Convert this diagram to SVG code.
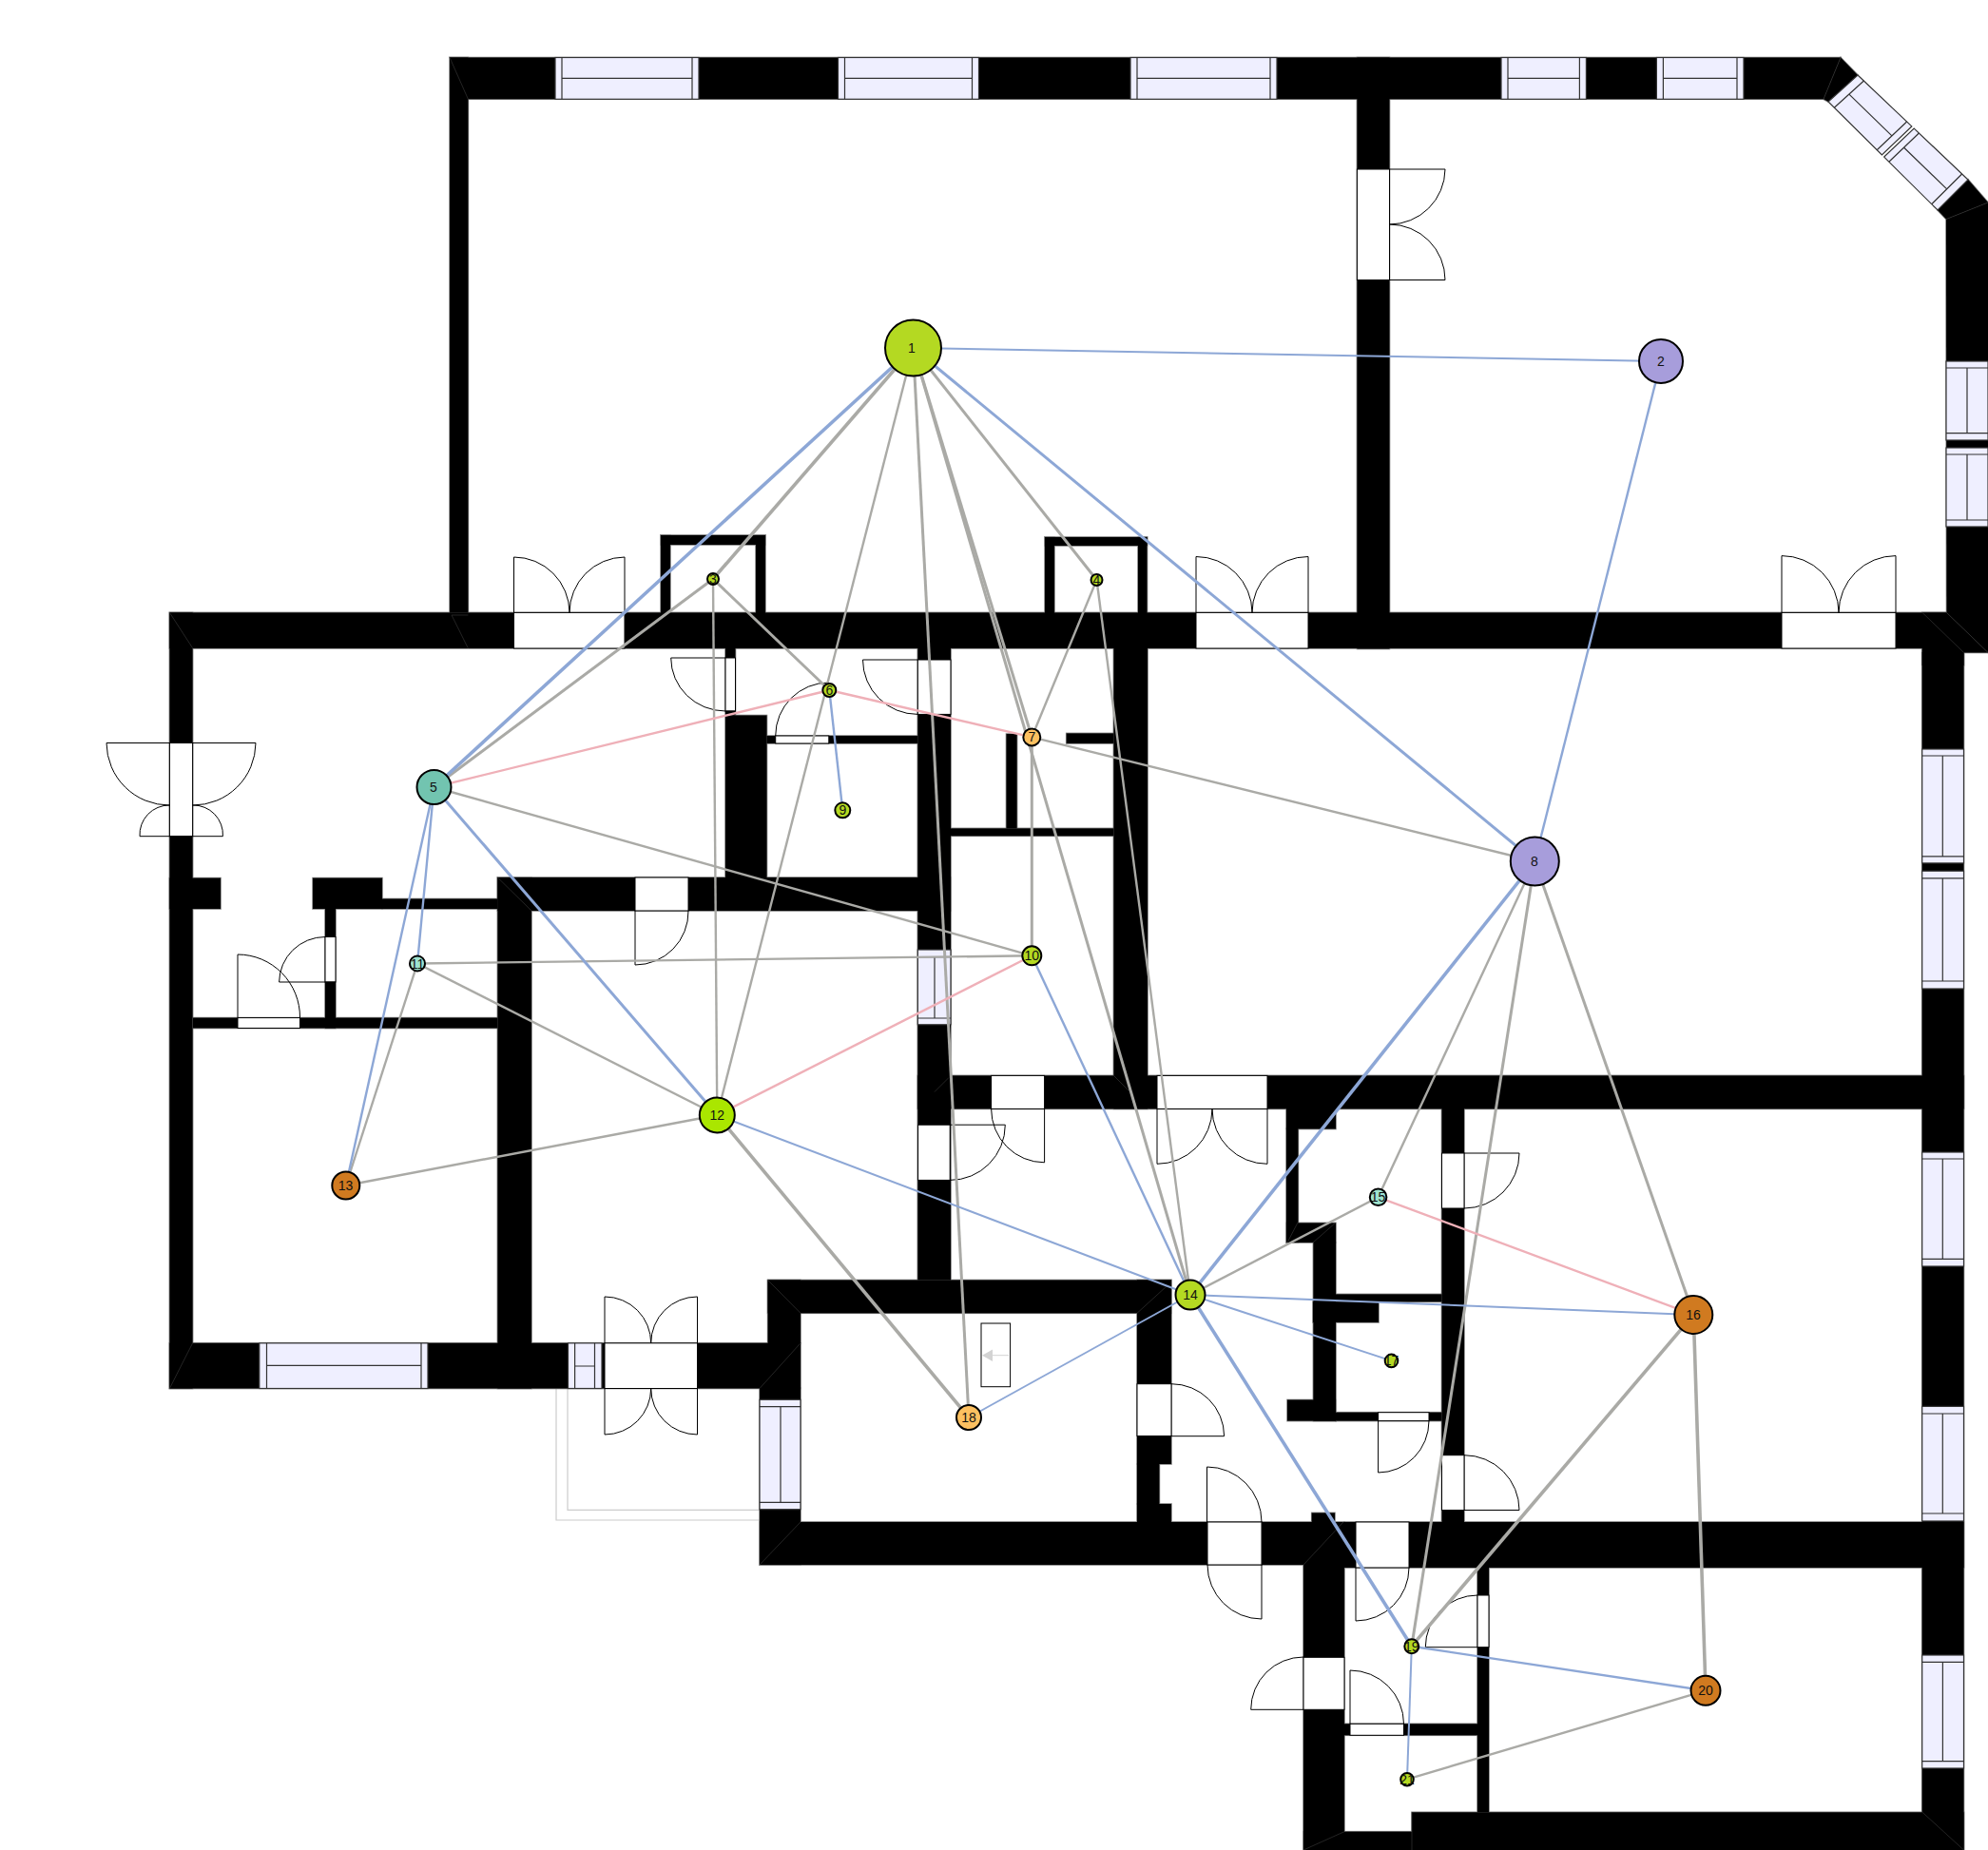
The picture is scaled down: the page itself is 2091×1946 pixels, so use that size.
<svg xmlns="http://www.w3.org/2000/svg" xmlns:xlink="http://www.w3.org/1999/xlink" width="2091" height="1946" viewBox="0 0 2091 1946">
<style>
.op{fill:#fff;stroke:#000;stroke-width:1}
.arc{fill:none;stroke:#000;stroke-width:1}
.win{fill:#efefff;stroke:#333;stroke-width:1.2}
.fr{fill:none;stroke:#333;stroke-width:1.2}
.hl{stroke:#333;stroke-width:.7;fill:none}
.out{fill:none;stroke:#ccc;stroke-width:1.2}
line.b{stroke:#8da7d6}
line.g{stroke:#aaaaa6}
line.p{stroke:#efb0b8}
.w1{stroke-width:2}
.w2{stroke-width:2.4}
.w25{stroke-width:3}
.w3{stroke-width:3.6}
.n circle{stroke:#000;stroke-width:2}
.n text{font-family:"Liberation Sans",Arial,sans-serif;font-size:14px;fill:#111;text-anchor:middle;dominant-baseline:central}
.lime{fill:#b4d922}
.vio{fill:#a79ddb}
.teal{fill:#72c4b0}
.mint{fill:#9ee3cf}
.brt{fill:#aae600}
.org{fill:#d07a20}
.yel{fill:#fdc060}
</style>
<defs>
<g id="walls">
<polygon points="473,60.5 1936,60.5 1918,104.3 492.4,104.3"/>
<rect x="473" y="60.5" width="19.4" height="584"/>
<rect x="1427.4" y="60.5" width="34.1" height="622"/>
<polygon points="1936,60.5 1954,79 1923,107 1918,104.3"/>
<polygon points="2070,188.7 2091,213 2047,230.6 2038,221"/>
<polygon points="2047,230.6 2091,213 2091,686.4 2047.5,644.4"/>
<rect x="178.4" y="644.4" width="1869" height="37.6"/>
<polygon points="2021.7,644.4 2047.5,644.4 2091,686.4 2065.5,686.4 2065.5,700 2021.7,700"/>
<rect x="2021.7" y="686" width="43.8" height="1260"/>
<rect x="695" y="563" width="10" height="82"/>
<rect x="795" y="563" width="10" height="82"/>
<rect x="695" y="563" width="110" height="10"/>
<rect x="1099" y="565" width="10" height="80"/>
<rect x="1197" y="565" width="9.500" height="80"/>
<rect x="1099" y="565" width="107.500" height="9"/>
<rect x="178.4" y="644.4" width="24.2" height="816.1"/>
<rect x="178.4" y="923.6" width="53.6" height="32.400"/>
<rect x="329" y="923.6" width="73" height="32.400"/>
<rect x="402" y="945.5" width="121.400" height="10.500"/>
<rect x="342" y="956" width="11" height="125.500"/>
<rect x="203" y="1070.6" width="320.400" height="10.900"/>
<rect x="523.4" y="923" width="35.600" height="537.500"/>
<rect x="523.4" y="923" width="476.600" height="35"/>
<rect x="178.4" y="1412.8" width="663.600" height="47.700"/>
<rect x="807.6" y="1346.5" width="34.400" height="67"/>
<rect x="807.6" y="1346.5" width="424.400" height="34.800"/>
<rect x="799" y="1460" width="43" height="186"/>
<rect x="799" y="1601" width="528" height="45"/>
<rect x="1196" y="1346.5" width="36" height="193.500"/>
<rect x="1196" y="1540" width="23.400" height="42"/>
<rect x="1196" y="1582" width="36" height="19"/>
<rect x="763" y="752.5" width="43.500" height="170.500"/>
<rect x="763" y="682" width="10.500" height="70.500"/>
<rect x="806.5" y="774" width="158.800" height="8"/>
<rect x="965.3" y="682" width="34.700" height="664.500"/>
<rect x="1000" y="871.4" width="171.400" height="7.900"/>
<rect x="1058.5" y="772" width="11.100" height="99.400"/>
<rect x="1121.7" y="771.4" width="49.700" height="10.600"/>
<rect x="1171.4" y="682" width="35.600" height="484.400"/>
<rect x="965.3" y="1131.4" width="1100.200" height="35"/>
<rect x="1353" y="1166" width="52" height="21.500"/>
<rect x="1353" y="1187" width="12.400" height="120"/>
<rect x="1353" y="1286.4" width="52" height="20.600"/>
<rect x="1381.4" y="1307" width="23.600" height="187.600"/>
<rect x="1354" y="1472.5" width="51" height="22.100"/>
<rect x="1405" y="1485.7" width="111.500" height="8.900"/>
<rect x="1405" y="1361.4" width="111.500" height="7.900"/>
<rect x="1381" y="1369.3" width="69" height="21.700"/>
<rect x="1516.5" y="1166" width="23.500" height="435"/>
<rect x="1379.7" y="1591.4" width="24.300" height="10"/>
<rect x="1327" y="1601" width="87" height="45"/>
<rect x="1414" y="1601" width="651.500" height="48"/>
<rect x="1371" y="1646" width="43" height="300"/>
<rect x="1554" y="1649" width="12" height="257.300"/>
<rect x="1414" y="1813.3" width="140" height="12"/>
<rect x="1485" y="1906.3" width="580.500" height="39.700"/>
<rect x="1371" y="1926.7" width="114" height="19.300"/>
</g>
</defs>
<rect width="2091" height="1946" fill="#fff"/>
<g id="plan">
<path class="out" d="M585,1460V1599H799M597,1460V1588.300H799"/>
<use href="#walls" fill="#000" stroke="#808080" stroke-width="1.600"/>
<use href="#walls" fill="#000"/>
<g id="miters">
<path class="hl" d="M473,60.5L492.4,104.3M475,647L492.4,682M475,647H492.400M178.4,644.4L202.6,681.700M178.4,1460.5L202.6,1412.800M523.4,923L559,958M807.6,1346.5L842,1381.300M799,1460.5L842,1412.800M799,1646L842,1601M1196,1381.300L1227,1353M983,1148.500L998,1133.500M1171.4,1131.400L1187,1147M1354,1307L1365,1286M1381,1307L1405,1286M1371,1646L1413,1601M2022,1906.300L2065.500,1946M1371,1946L1414,1926.700M1485,1906.300V1946M1918,104.300L1936,60.500M2047,230.600L2091,213M2022,644.400L2065.500,686.400M2047.5,644.4L2091,686.400"/>
</g>
<g id="openings">
<rect class="op" x="540.5" y="644.4" width="116.500" height="37.600"/>
<rect class="op" x="1258" y="644.4" width="118" height="37.600"/>
<rect class="op" x="1874" y="644.4" width="120" height="37.600"/>
<rect class="op" x="1427.4" y="178" width="34.100" height="116.500"/>
<rect class="op" x="178.4" y="781.5" width="24.200" height="98.200"/>
<rect class="op" x="250" y="1070.6" width="65.500" height="10.900"/>
<rect class="op" x="342" y="985.5" width="11" height="47.500"/>
<rect class="op" x="668" y="923" width="56" height="35"/>
<rect class="op" x="763" y="692" width="10.500" height="56"/>
<rect class="op" x="815.7" y="774" width="56.100" height="8"/>
<rect class="op" x="965.3" y="694" width="34.700" height="57.400"/>
<rect class="op" x="636" y="1412.8" width="97.500" height="47.700"/>
<rect class="op" x="1042.6" y="1131.4" width="56" height="35"/>
<rect class="op" x="965.6" y="1183.2" width="33.600" height="58.200"/>
<rect class="op" x="1217" y="1131.4" width="116" height="35"/>
<rect class="op" x="1196" y="1455.7" width="36" height="54.800"/>
<rect class="op" x="1270" y="1601" width="57" height="45"/>
<rect class="op" x="1449.6" y="1485.7" width="53.400" height="8.900"/>
<rect class="op" x="1516.5" y="1213" width="23.500" height="58"/>
<rect class="op" x="1516.5" y="1530.7" width="23.500" height="57.800"/>
<rect class="op" x="1426" y="1601" width="56" height="48"/>
<rect class="op" x="1554" y="1678" width="12" height="54.700"/>
<rect class="op" x="1420" y="1813.3" width="56.500" height="12"/>
<rect class="op" x="1371" y="1743.3" width="43" height="55"/>
</g>
<g id="door-leaves">
<path class="arc" d="M540.5,644.4V586A58.500,58.500 0 0 1 599,644.400A58.500,58.500 0 0 1 657,586V644.400"/>
<path class="arc" d="M1258,644.4V585.500A59,59 0 0 1 1317,644.400A59,59 0 0 1 1376,585.500V644.400"/>
<path class="arc" d="M1874,644.4V584.600A60,60 0 0 1 1934,644.400A60,60 0 0 1 1994,584.600V644.400"/>
<path class="arc" d="M1461.5,178H1520A58.500,58.500 0 0 1 1461.500,236A58.500,58.500 0 0 1 1520,294.500H1461.500"/>
<path class="arc" d="M178.4,781.5H112A66,66 0 0 0 178.400,847M202.6,781.5H269A66,66 0 0 1 202.600,847"/>
<path class="arc" d="M178.4,847A31,31 0 0 0 147,879.700H234.400A31,31 0 0 0 202.600,847"/>
<path class="arc" d="M250,1070.6V1004A65.500,66 0 0 1 315.500,1070.600"/>
<path class="arc" d="M342,985.5A48.500,48 0 0 0 293.600,1033H353"/>
<path class="arc" d="M668,958V1015A56,56 0 0 0 724,958"/>
<path class="arc" d="M763,692H705.700A57.500,56 0 0 0 763,748H773.500"/>
<path class="arc" d="M965.3,694H907.500A57.800,57.400 0 0 0 965.300,751.400"/>
<path class="arc" d="M815.7,774V774A56,56 0 0 1 871.800,718"/>
<path class="arc" d="M636,1412.8V1364A48.700,48.800 0 0 1 684.700,1412.800A48.800,48.800 0 0 1 733.500,1364V1412.800"/>
<path class="arc" d="M636,1460.5V1509A48.700,48.500 0 0 0 684.700,1460.500A48.800,48.500 0 0 0 733.500,1509V1460.500"/>
<path class="arc" d="M1098.6,1166.4V1222.800A56,56.400 0 0 1 1042.600,1166.400"/>
<path class="arc" d="M999.2,1183.2H1057.300A58,58.200 0 0 1 999.200,1241.400"/>
<path class="arc" d="M1217,1166.4V1224.300A58,58 0 0 0 1275,1166.400A58,58 0 0 0 1333,1224.300V1166.400"/>
<path class="arc" d="M1232,1455.7A55.600,55 0 0 1 1287.600,1510.700H1232"/>
<path class="arc" d="M1449.6,1494.6V1549A53.400,54.400 0 0 0 1503,1494.600"/>
<path class="arc" d="M1540,1213H1598A58,58 0 0 1 1540,1271"/>
<path class="arc" d="M1540,1530.7A58,57.800 0 0 1 1598,1588.500H1540"/>
<path class="arc" d="M1269.5,1601V1543A57.500,58 0 0 1 1327,1601"/>
<path class="arc" d="M1327,1646V1703A57,57 0 0 1 1270,1646"/>
<path class="arc" d="M1426,1649V1705A56,56 0 0 0 1482,1649"/>
<path class="arc" d="M1554,1678A54.700,54.700 0 0 0 1499.300,1732.700H1554"/>
<path class="arc" d="M1420,1813.3V1757A56.500,56.300 0 0 1 1476.500,1813.300"/>
<path class="arc" d="M1371,1743A55.300,55.300 0 0 0 1315.700,1798.300H1371"/>
</g>
<g id="windows">
<rect class="win" x="584" y="60.5" width="151" height="43.800"/><path class="fr" d="M591,60.5V104.300M728,60.5V104.300M591,82.400H728"/>
<rect class="win" x="881.5" y="60.5" width="148" height="43.800"/><path class="fr" d="M888.5,60.5V104.300M1022.500,60.5V104.300M888.5,82.400H1022.500"/>
<rect class="win" x="1189" y="60.5" width="154" height="43.800"/><path class="fr" d="M1196,60.5V104.300M1336,60.5V104.300M1196,82.400H1336"/>
<rect class="win" x="1579" y="60.5" width="89.400" height="43.800"/><path class="fr" d="M1586,60.5V104.300M1661.400,60.5V104.300M1586,82.400H1661.400"/>
<rect class="win" x="1742.4" y="60.5" width="91.600" height="43.800"/><path class="fr" d="M1749.4,60.5V104.300M1827,60.5V104.300M1749.4,82.400H1827"/>
<polygon class="win" points="1954,79 2010.8,132.900 1979.4,162.900 1923,107"/><path class="fr" d="M1960.4,85L1929.3,113.300M2005.6,128L1974.2,157.700M1944.9,99.100L1989.9,142.900"/>
<polygon class="win" points="2013.2,135.100 2070,189 2038,221 1981.7,165.100"/><path class="fr" d="M2018.4,140L1986.8,170.300M2063.6,183L2031.700,214.700M2002.6,155.200L2047.700,198.900"/>
<rect class="win" x="2047" y="380" width="44" height="83"/><path class="fr" d="M2047,387H2091M2047,455.600H2091M2069,387V455.600"/>
<rect class="win" x="2047" y="471" width="44" height="83"/><path class="fr" d="M2047,478H2091M2047,547H2091M2069,478V547"/>
<rect class="win" x="2021.7" y="788" width="43.800" height="119.900"/><path class="fr" d="M2021.7,795H2065.500M2021.7,900.900H2065.500M2043.3,795V900.900"/>
<rect class="win" x="2021.7" y="916.2" width="43.800" height="123.800"/><path class="fr" d="M2021.7,923.800H2065.500M2021.7,1032H2065.500M2043.3,923.800V1032"/>
<rect class="win" x="2021.7" y="1212" width="43.800" height="120"/><path class="fr" d="M2021.7,1219H2065.500M2021.7,1324.400H2065.500M2043.3,1219V1324.400"/>
<rect class="win" x="2021.7" y="1479.4" width="43.800" height="120.600"/><path class="fr" d="M2021.7,1487H2065.500M2021.7,1592H2065.500M2043.3,1487V1592"/>
<rect class="win" x="2021.7" y="1741" width="43.800" height="119"/><path class="fr" d="M2021.7,1748.300H2065.500M2021.7,1852.700H2065.500M2043.4,1748.300V1852.700"/>
<rect class="win" x="965.3" y="999" width="34.700" height="78.800"/><path class="fr" d="M965.3,1006.700H1000M965.3,1071H1000M983,1006.700V1071"/>
<rect class="win" x="272.8" y="1412.8" width="177.200" height="47.700"/><path class="fr" d="M280.5,1412.800V1460.500M443,1412.800V1460.500M280.5,1436.400H443"/>
<rect class="win" x="597.5" y="1412.8" width="35.500" height="47.700"/><path class="fr" d="M604.6,1412.800V1460.500M625.5,1412.800V1460.500M604.6,1437H625.500"/>
<rect class="win" x="799" y="1472.3" width="43" height="115.400"/><path class="fr" d="M799,1479.700H842M799,1580.300H842M821,1479.700V1580.300"/>
</g>
<g id="stair">
<rect x="1032" y="1392" width="30.600" height="66.700" fill="none" stroke="#000" stroke-width="1"/>
<path d="M1061,1425.700H1044" stroke="#d3d3d3" stroke-width="1" fill="none"/>
<polygon points="1033,1425.700 1044,1419.500 1044,1432" fill="#d3d3d3"/>
</g>
</g>
<g id="connectors">
<line class="g w3" x1="960.5" y1="366" x2="750" y2="609"/>
<line class="g w2" x1="960.5" y1="366" x2="754.3" y2="1173"/>
<line class="g w25" x1="960.5" y1="366" x2="1019" y2="1491"/>
<line class="g w25" x1="960.5" y1="366" x2="1085.3" y2="775.400"/>
<line class="g w25" x1="960.5" y1="366" x2="1252" y2="1362"/>
<line class="g w25" x1="960.5" y1="366" x2="1153.5" y2="610"/>
<line class="g w25" x1="456.5" y1="828" x2="750" y2="609"/>
<line class="g w25" x1="750" y1="609" x2="872.3" y2="726"/>
<line class="g w2" x1="750" y1="609" x2="754.3" y2="1173"/>
<line class="g w2" x1="1153.5" y1="610" x2="1085.3" y2="775.400"/>
<line class="g w2" x1="1153.5" y1="610" x2="1252" y2="1362"/>
<line class="g w2" x1="1085.3" y1="775.400" x2="1614.3" y2="906"/>
<line class="g w25" x1="1085.3" y1="775.400" x2="1085.3" y2="1005.300"/>
<line class="g w2" x1="456.5" y1="828" x2="1085.3" y2="1005.300"/>
<line class="g w2" x1="439" y1="1013.500" x2="1085.3" y2="1005.300"/>
<line class="g w2" x1="439" y1="1013.500" x2="754.3" y2="1173"/>
<line class="g w2" x1="439" y1="1013.500" x2="363.8" y2="1247"/>
<line class="g w2" x1="363.8" y1="1247" x2="754.3" y2="1173"/>
<line class="g w3" x1="754.3" y1="1173" x2="1019" y2="1491"/>
<line class="g w2" x1="1252" y1="1362" x2="1449.6" y2="1259.300"/>
<line class="g w2" x1="1614.3" y1="906" x2="1449.6" y2="1259.300"/>
<line class="g w25" x1="1614.3" y1="906" x2="1484.8" y2="1731.700"/>
<line class="g w25" x1="1614.3" y1="906" x2="1781.3" y2="1383"/>
<line class="g w3" x1="1781.3" y1="1383" x2="1484.8" y2="1731.700"/>
<line class="g w3" x1="1781.3" y1="1383" x2="1794" y2="1778.300"/>
<line class="g w2" x1="1794" y1="1778.300" x2="1480" y2="1871.700"/>
<line class="p w2" x1="456.5" y1="828" x2="872.3" y2="726"/>
<line class="p w2" x1="872.3" y1="726" x2="1085.3" y2="775.400"/>
<line class="p w2" x1="754.3" y1="1173" x2="1085.3" y2="1005.300"/>
<line class="p w2" x1="1449.6" y1="1259.300" x2="1781.3" y2="1383"/>
<line class="b w1" x1="960.5" y1="366" x2="1747" y2="380"/>
<line class="b w3" x1="960.5" y1="366" x2="456.5" y2="828"/>
<line class="b w25" x1="960.5" y1="366" x2="1614.3" y2="906"/>
<line class="b w2" x1="1747" y1="380" x2="1614.3" y2="906"/>
<line class="b w25" x1="456.5" y1="828" x2="754.3" y2="1173"/>
<line class="b w2" x1="456.5" y1="828" x2="363.8" y2="1247"/>
<line class="b w2" x1="456.5" y1="828" x2="439" y2="1013.500"/>
<line class="b w2" x1="872.3" y1="726" x2="886.3" y2="852.300"/>
<line class="b w2" x1="1085.3" y1="1005.300" x2="1252" y2="1362"/>
<line class="b w1" x1="754.3" y1="1173" x2="1252" y2="1362"/>
<line class="b w1" x1="1252" y1="1362" x2="1781.3" y2="1383"/>
<line class="b w1" x1="1252" y1="1362" x2="1463.5" y2="1431.400"/>
<line class="b w1" x1="1252" y1="1362" x2="1019" y2="1491"/>
<line class="b w3" x1="1252" y1="1362" x2="1614.3" y2="906"/>
<line class="b w3" x1="1252" y1="1362" x2="1484.8" y2="1731.700"/>
<line class="b w2" x1="1484.8" y1="1731.700" x2="1794" y2="1778.300"/>
<line class="b w1" x1="1484.8" y1="1731.700" x2="1480" y2="1871.700"/>
</g>
<g id="nodes">
<g id="n1" class="n"><circle class="lime" cx="960.5" cy="366" r="29.500"/><text x="959" y="366">1</text></g>
<g id="n2" class="n"><circle class="vio" cx="1747" cy="380" r="23"/><text x="1747" y="380">2</text></g>
<g id="n3" class="n"><circle class="lime" cx="750" cy="609" r="6"/><text x="750" y="609">3</text></g>
<g id="n4" class="n"><circle class="lime" cx="1153.5" cy="610" r="6"/><text x="1153.5" y="610">4</text></g>
<g id="n5" class="n"><circle class="teal" cx="456.5" cy="828" r="18"/><text x="456" y="828">5</text></g>
<g id="n6" class="n"><circle class="lime" cx="872.3" cy="726" r="7"/><text x="872.3" y="726">6</text></g>
<g id="n7" class="n"><circle class="yel" cx="1085.3" cy="775.4" r="9"/><text x="1085.3" y="775.4">7</text></g>
<g id="n8" class="n"><circle class="vio" cx="1614.3" cy="906" r="25.500"/><text x="1614" y="906">8</text></g>
<g id="n9" class="n"><circle class="lime" cx="886.3" cy="852.3" r="8"/><text x="886.3" y="852.3">9</text></g>
<g id="n10" class="n"><circle class="lime" cx="1085.3" cy="1005.3" r="10"/><text x="1085.3" y="1005.3">10</text></g>
<g id="n11" class="n"><circle class="mint" cx="439" cy="1013.5" r="8"/><text x="439" y="1013.5">11</text></g>
<g id="n12" class="n"><circle class="brt" cx="754.3" cy="1173" r="18.500"/><text x="754.3" y="1173">12</text></g>
<g id="n13" class="n"><circle class="org" cx="363.8" cy="1247" r="14.500"/><text x="363.5" y="1247">13</text></g>
<g id="n14" class="n"><circle class="lime" cx="1252" cy="1362" r="15.500"/><text x="1252" y="1362">14</text></g>
<g id="n15" class="n"><circle class="mint" cx="1449.6" cy="1259.3" r="8.800"/><text x="1449.6" y="1259.3">15</text></g>
<g id="n16" class="n"><circle class="org" cx="1781.3" cy="1383" r="20"/><text x="1781" y="1383">16</text></g>
<g id="n17" class="n"><circle class="lime" cx="1463.5" cy="1431.4" r="6.800"/><text x="1463.5" y="1431.4">17</text></g>
<g id="n18" class="n"><circle class="yel" cx="1019" cy="1491" r="13"/><text x="1019" y="1491">18</text></g>
<g id="n19" class="n"><circle class="lime" cx="1484.8" cy="1731.7" r="7.500"/><text x="1484.8" y="1731.7">19</text></g>
<g id="n20" class="n"><circle class="org" cx="1794" cy="1778.3" r="15.500"/><text x="1794" y="1778.3">20</text></g>
<g id="n21" class="n"><circle class="lime" cx="1480" cy="1871.7" r="6.800"/><text x="1480" y="1871.7">21</text></g>
</g>
</svg>
